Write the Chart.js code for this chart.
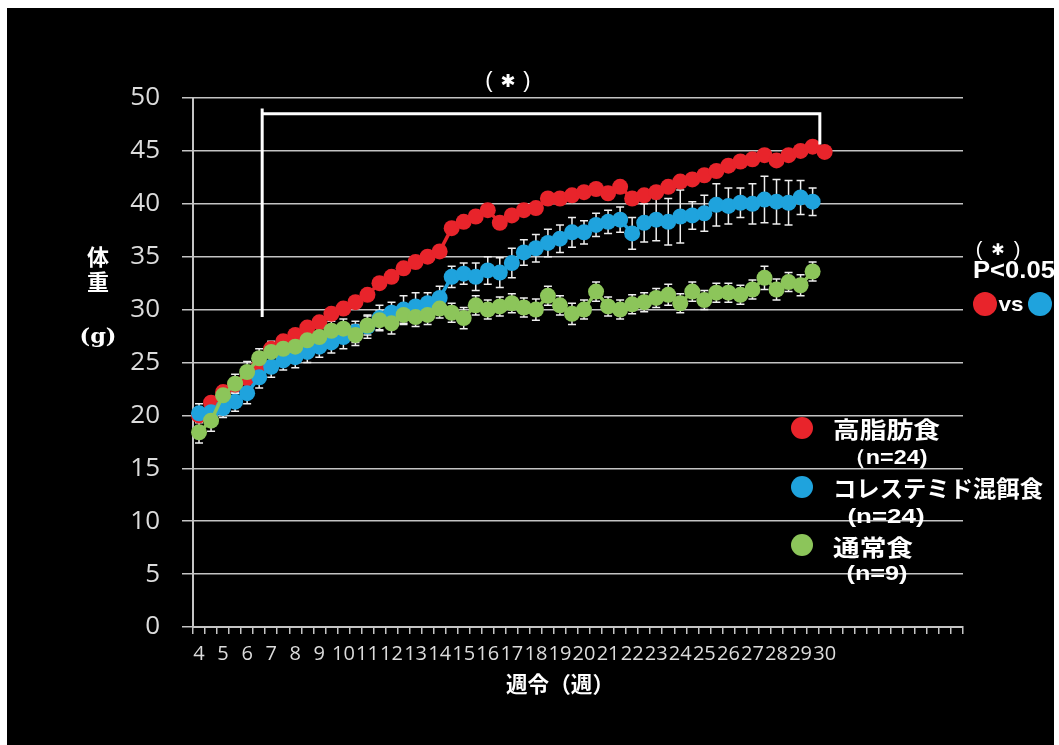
<!DOCTYPE html>
<html lang="ja">
<head>
<meta charset="utf-8">
<title>体重推移</title>
<script src="https://cdn.jsdelivr.net/npm/chart.js@4.4.1/dist/chart.umd.min.js"></script>
<style>
  html, body { margin:0; padding:0; background:#fff; }
  #wrap { position:relative; width:1059px; height:745px; overflow:hidden; }
  #bg { position:absolute; left:7px; top:8px; right:5px; bottom:0; background:#000; }
  #chart { position:absolute; left:0; top:0; }
</style>
</head>
<body>
<div id="wrap">
  <div id="bg"></div>
  <canvas id="chart" width="1059" height="745"></canvas>
</div>
<script>
/* ── Axis labels ── */
const WEEK_LABELS = ['4','5','6','7','8','9','10','11','12','13','14','15','16','17','18','19','20','21','22','23','24','25','26','27','28','29','30'];
const SLOT_COUNT = 64;   // half-week slots on the category axis
const Y_MIN = 0, Y_MAX = 50, Y_STEP = 5;

/* ── Body weight (g), twice a week ── */
const HIGH_FAT = [
  20.0,21.2,22.2,22.9,23.5,24.7,26.3,27.0,27.6,28.3,
  28.8,29.6,30.1,30.7,31.4,32.5,33.1,33.9,34.5,35.0,
  35.5,37.7,38.3,38.8,39.4,38.2,38.9,39.4,39.6,40.5,
  40.5,40.8,41.1,41.4,41.0,41.6,40.5,40.8,41.1,41.6,
  42.1,42.3,42.7,43.1,43.6,44.0,44.2,44.6,44.1,44.6,
  45.0,45.4,44.9
];
const COLESTIMIDE = [
  20.2,20.3,20.7,21.3,22.1,23.6,24.6,25.2,25.5,26.0,
  26.5,26.9,27.4,27.9,28.4,29.2,29.7,30.0,30.3,30.6,
  31.1,33.1,33.4,33.1,33.7,33.5,34.4,35.4,35.8,36.3,
  36.7,37.3,37.3,38.0,38.3,38.5,37.2,38.2,38.5,38.3,
  38.8,38.9,39.1,39.9,39.8,40.1,40.0,40.4,40.2,40.1,
  40.6,40.2
];
const NORMAL = [
  18.4,19.5,21.9,23.0,24.1,25.4,26.0,26.3,26.5,27.1,
  27.4,28.0,28.2,27.6,28.5,29.0,28.7,29.5,29.3,29.5,
  30.1,29.7,29.2,30.4,30.0,30.3,30.6,30.2,30.0,31.3,
  30.4,29.6,30.0,31.7,30.3,30.0,30.5,30.7,31.1,31.4,
  30.6,31.7,30.9,31.6,31.6,31.4,31.9,33.0,31.9,32.6,
  32.3,33.6
];

/* ── Error bars (SE) ── */
const COLESTIMIDE_ERR = [
  0.9,0.8,0.9,0.9,1.0,1.0,1.0,0.9,1.0,1.0,
  1.0,1.0,1.1,1.0,1.1,1.2,1.0,1.3,1.3,1.0,
  1.1,1.0,1.0,1.3,1.3,1.4,1.4,1.2,1.3,1.3,
  1.3,1.4,1.1,1.1,1.1,1.2,1.5,1.8,2.0,2.2,
  2.5,1.3,1.7,2.0,1.7,1.4,1.9,2.2,2.1,2.1,
  1.6,1.3
];
const NORMAL_ERR = [
  1.0,1.0,0.9,0.9,1.0,0.9,1.0,0.9,0.9,0.9,
  0.9,0.9,0.9,1.0,0.9,0.9,1.0,0.9,0.9,0.9,
  0.9,0.9,1.0,0.9,0.9,0.9,0.9,0.9,1.0,0.9,
  0.9,1.0,0.9,0.9,0.9,0.9,0.9,0.9,0.9,1.0,
  0.9,0.9,0.9,0.9,0.9,0.9,0.9,1.1,1.0,0.9,
  1.0,0.9
];

/* ── Significance bracket (slot index / g) ── */
const BRACKET = { from:5.25, to:51.6, top:48.5, leftTop:49.0, leftEnd:29.3, rightEnd:45.6 };

const RED = '#E8242B', BLUE = '#1FA3DD', GREEN = '#8CC55A';
const GRID = '#c4c4c4', TXT = '#ffffff';
const CJK = '"Noto Sans CJK JP", "Noto Sans", sans-serif';
const LAT = '"Liberation Sans", Arial, sans-serif';

const slotLabels = Array.from({length:SLOT_COUNT}, (_, i) =>
  (i % 2 === 0 && WEEK_LABELS[i / 2]) ? WEEK_LABELS[i / 2] : '');

function textAt(ctx, str, x, y, font, width, align) {
  ctx.save();
  ctx.font = font;
  const w = ctx.measureText(str).width;
  const sx = width ? width / w : 1;
  ctx.translate(x, y);
  ctx.scale(sx, 1);
  ctx.textAlign = align || 'center';
  ctx.textBaseline = 'middle';
  ctx.fillStyle = TXT;
  ctx.fillText(str, 0, 0);
  ctx.restore();
}

// "( * )" with a heavy star between thin brackets
function starNote(ctx, x, y, size, gap) {
  textAt(ctx, '(', x - gap, y, size + 'px ' + LAT);
  textAt(ctx, ')', x + gap, y, size + 'px ' + LAT);
  textAt(ctx, '✱', x, y + 1, 'bold ' + Math.round(size * 0.8) + 'px "DejaVu Sans", sans-serif');
}

function dot(ctx, x, y, r, color) {
  ctx.beginPath();
  ctx.arc(x, y, r, 0, Math.PI * 2);
  ctx.fillStyle = color;
  ctx.fill();
}

/* ── error bars under the markers ── */
const errorBars = {
  id:'errorBars',
  beforeDatasetsDraw(chart) {
    const {ctx, scales:{x, y}} = chart;
    ctx.save();
    ctx.strokeStyle = '#eeeeee';
    ctx.lineWidth = 1.5;
    chart.data.datasets.forEach(ds => {
      if (!ds.err) return;
      ds.data.forEach((v, i) => {
        const e = ds.err[i];
        if (v == null || e == null) return;
        const px = x.getPixelForValue(i);
        const hi = y.getPixelForValue(v + e), lo = y.getPixelForValue(v - e);
        ctx.beginPath();
        ctx.moveTo(px, hi); ctx.lineTo(px, lo);
        ctx.moveTo(px - 4, hi); ctx.lineTo(px + 4, hi);
        ctx.moveTo(px - 4, lo); ctx.lineTo(px + 4, lo);
        ctx.stroke();
      });
    });
    ctx.restore();
  }
};

/* ── bracket, titles, legend, notes ── */
const decorations = {
  id:'decorations',
  afterDatasetsDraw(chart) {
    const {ctx, scales:{x, y}} = chart;
    ctx.save();
    ctx.strokeStyle = '#ffffff';
    ctx.lineWidth = 3;
    ctx.beginPath();
    ctx.moveTo(x.getPixelForValue(BRACKET.from), y.getPixelForValue(BRACKET.leftEnd));
    ctx.lineTo(x.getPixelForValue(BRACKET.from), y.getPixelForValue(BRACKET.leftTop));
    ctx.moveTo(x.getPixelForValue(BRACKET.from), y.getPixelForValue(BRACKET.top));
    ctx.lineTo(x.getPixelForValue(BRACKET.to), y.getPixelForValue(BRACKET.top));
    ctx.lineTo(x.getPixelForValue(BRACKET.to), y.getPixelForValue(BRACKET.rightEnd));
    ctx.stroke();
    ctx.restore();

    starNote(ctx, 508, 81, 22, 19);

    // y title
    textAt(ctx, '体', 98, 257, 'bold 22px ' + CJK);
    textAt(ctx, '重', 98, 282, 'bold 22px ' + CJK);
    textAt(ctx, '(g)', 98, 338, 'bold 20px "DejaVu Serif", serif', 37);
    // x title
    textAt(ctx, '週令（週）', 560, 684, 'bold 22px ' + CJK, 108);

    // legend
    dot(ctx, 802, 428, 11, RED);
    textAt(ctx, '高脂肪食', 833, 429, 'bold 23px ' + CJK, 107, 'left');
    textAt(ctx, '（n=24)', 885, 458, 'bold 21px ' + LAT, 85);
    dot(ctx, 802, 487, 11, BLUE);
    textAt(ctx, 'コレステミド混餌食', 833, 488, 'bold 23px ' + CJK, 210, 'left');
    textAt(ctx, '(n=24)', 886, 517, 'bold 21px ' + LAT, 77);
    dot(ctx, 802, 545, 11, GREEN);
    textAt(ctx, '通常食', 833, 547, 'bold 23px ' + CJK, 80, 'left');
    textAt(ctx, '(n=9)', 877, 574, 'bold 21px ' + LAT, 61);

    // significance note
    starNote(ctx, 998, 250, 20, 19);
    textAt(ctx, 'P<0.05', 1014, 272, 'bold 23px ' + LAT, 82);
    dot(ctx, 985, 304, 12, RED);
    textAt(ctx, 'vs', 1011, 305, 'bold 21px ' + LAT, 25);
    dot(ctx, 1040, 304, 12, BLUE);
  }
};

function series(label, data, color, order, err) {
  return {
    label, data, err, order,
    borderColor:color, backgroundColor:color,
    pointBackgroundColor:color, pointBorderWidth:0,
    pointRadius:8, borderWidth:3.5, tension:0
  };
}

new Chart(document.getElementById('chart'), {
  type:'line',
  data:{
    labels:slotLabels,
    datasets:[
      series('高脂肪食', HIGH_FAT, RED, 3, null),
      series('コレステミド混餌食', COLESTIMIDE, BLUE, 2, COLESTIMIDE_ERR),
      series('通常食', NORMAL, GREEN, 1, NORMAL_ERR),
    ]
  },
  options:{
    responsive:false, animation:false,
    layout:{ padding:{ top:98, right:96, bottom:0, left:0 } },
    plugins:{ legend:{display:false}, tooltip:{enabled:false} },
    scales:{
      x:{
        offset:true,
        grid:{ display:true, drawOnChartArea:false, drawTicks:true, tickLength:7, offset:true, color:GRID, lineWidth:1.5 },
        border:{ display:true, color:GRID, width:2 },
        ticks:{ autoSkip:false, maxRotation:0, minRotation:0, padding:8, color:'#dcdcdc', font:{family:'"Open Sans"', size:20} },
        afterFit(s){ s.height = 118; }
      },
      y:{
        min:Y_MIN, max:Y_MAX,
        grid:{ color:GRID, lineWidth:1.5, tickLength:11, drawTicks:true },
        border:{ display:true, color:GRID, width:2 },
        ticks:{ stepSize:Y_STEP, padding:22, color:'#dcdcdc', font:{family:'"Open Sans"', size:26} },
        afterFit(s){ s.width = 193; }
      }
    }
  },
  plugins:[errorBars, decorations]
});
</script>
</body>
</html>
